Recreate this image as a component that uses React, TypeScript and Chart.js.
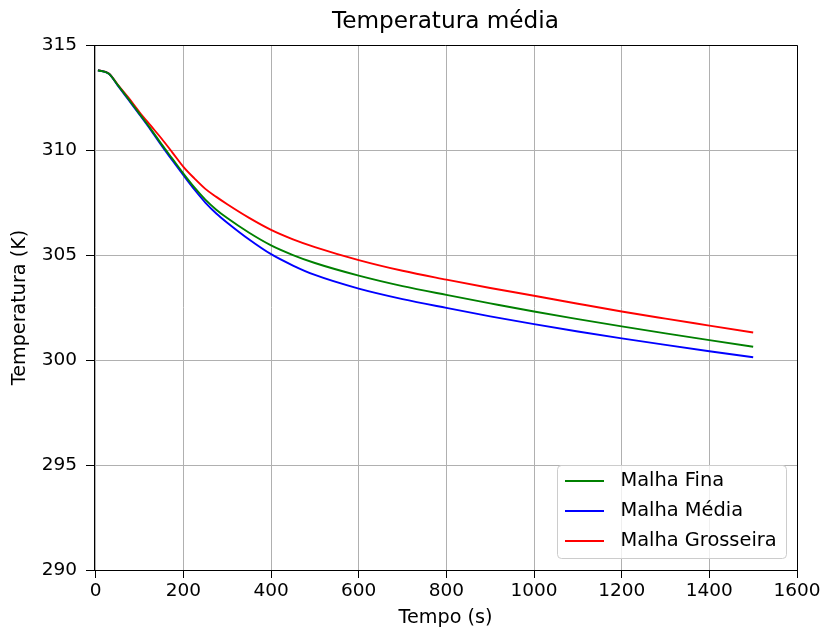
import React, { useEffect, useRef } from "react";
import { Chart, registerables } from "chart.js";

Chart.register(...registerables);

const times = [5, 30, 50, 75, 100, 125, 150, 175, 200, 225, 250, 275, 300, 350, 400, 450, 500, 600, 700, 800, 900, 1000, 1100, 1200, 1300, 1400, 1500];

const malhaFina = [313.8, 313.63, 313.1, 312.42, 311.72, 311.02, 310.28, 309.58, 308.88, 308.22, 307.64, 307.16, 306.76, 306.06, 305.46, 305.0, 304.62, 304.02, 303.52, 303.1, 302.7, 302.31, 301.95, 301.6, 301.27, 300.95, 300.63];

const malhaMedia = [313.8, 313.63, 313.08, 312.38, 311.68, 310.97, 310.22, 309.5, 308.8, 308.12, 307.5, 306.98, 306.54, 305.74, 305.04, 304.5, 304.05, 303.4, 302.9, 302.48, 302.08, 301.71, 301.36, 301.03, 300.72, 300.42, 300.13];

const malhaGrosseira = [313.8, 313.65, 313.12, 312.48, 311.8, 311.17, 310.55, 309.88, 309.2, 308.65, 308.15, 307.77, 307.42, 306.77, 306.2, 305.75, 305.38, 304.76, 304.25, 303.83, 303.43, 303.06, 302.68, 302.31, 301.97, 301.64, 301.31];

const seriesLabels = ["Malha Fina", "Malha Média", "Malha Grosseira"];
const seriesColors = ["#008000", "#0000ff", "#ff0000"];

const xTicks = [0, 200, 400, 600, 800, 1000, 1200, 1400, 1600];
const yTicks = [290, 295, 300, 305, 310, 315];

const FONT = "DejaVu Sans";

const framePlugin = {
  id: "frame",
  afterDatasetsDraw(chart: any) {
    const { ctx, chartArea } = chart;
    const { left, right, top, bottom } = chartArea;
    ctx.save();
    ctx.strokeStyle = "#000";
    ctx.lineWidth = 1;
    ctx.beginPath();
    ctx.moveTo(Math.round(left) - 0.5, Math.round(top) + 0.5);
    ctx.lineTo(Math.round(right) + 0.5, Math.round(top) + 0.5);
    ctx.lineTo(Math.round(right) + 0.5, Math.round(bottom) + 0.5);
    ctx.stroke();
    ctx.restore();
  },
};

const legendPlugin = {
  id: "innerLegend",
  afterDraw(chart: any) {
    const { ctx } = chart;
    const x0 = 557.5, y0 = 465.5, w = 229, h = 93, r = 4;
    ctx.save();
    ctx.beginPath();
    ctx.moveTo(x0 + r, y0);
    ctx.lineTo(x0 + w - r, y0);
    ctx.quadraticCurveTo(x0 + w, y0, x0 + w, y0 + r);
    ctx.lineTo(x0 + w, y0 + h - r);
    ctx.quadraticCurveTo(x0 + w, y0 + h, x0 + w - r, y0 + h);
    ctx.lineTo(x0 + r, y0 + h);
    ctx.quadraticCurveTo(x0, y0 + h, x0, y0 + h - r);
    ctx.lineTo(x0, y0 + r);
    ctx.quadraticCurveTo(x0, y0, x0 + r, y0);
    ctx.closePath();
    ctx.fillStyle = "rgba(255,255,255,0.8)";
    ctx.fill();
    ctx.strokeStyle = "#cccccc";
    ctx.lineWidth = 1;
    ctx.stroke();
    const rows = [481, 511, 541];
    chart.data.datasets.forEach((ds: any, i: number) => {
      const y = rows[i];
      ctx.strokeStyle = ds.borderColor;
      ctx.lineWidth = 2;
      ctx.beginPath();
      ctx.moveTo(565, y);
      ctx.lineTo(604, y);
      ctx.stroke();
      ctx.fillStyle = "#000";
      ctx.font = `19.4px "${FONT}"`;
      ctx.textBaseline = "middle";
      ctx.textAlign = "left";
      ctx.fillText(ds.label, 620.5, y);
    });
    ctx.restore();
  },
};

export default function App() {
  const ref = useRef<HTMLCanvasElement | null>(null);

  useEffect(() => {
    if (!ref.current) return;
    const seriesValues = [malhaFina, malhaMedia, malhaGrosseira];
    const tickFont = { family: FONT, size: 18.5, weight: "normal" as const };
    const labelFont = { family: FONT, size: 19.2, weight: "normal" as const };
    const chart = new Chart(ref.current, {
      type: "line",
      data: {
        datasets: seriesValues.map((vals, i) => ({
          label: seriesLabels[i],
          data: times.map((t, j) => ({ x: t, y: vals[j] })),
          borderColor: seriesColors[i],
          backgroundColor: seriesColors[i],
          borderWidth: 1.9,
          pointRadius: 0,
          fill: false,
          cubicInterpolationMode: "monotone" as const,
        })),
      },
      options: {
        animation: false,
        responsive: false,
        maintainAspectRatio: false,
        layout: { padding: { left: 0, right: 27, top: 0, bottom: 0 } },
        plugins: {
          legend: { display: false },
          tooltip: { enabled: false },
          title: {
            display: true,
            text: "Temperatura média",
            fullSize: false,
            color: "#000",
            font: { family: FONT, size: 23.2, weight: "normal" },
            padding: { top: 8.5, bottom: 8.7 },
          },
        },
        scales: {
          x: {
            type: "linear",
            min: -4,
            max: 1600,
            afterBuildTicks: (s: any) => {
              s.ticks = xTicks.map((v) => ({ value: v }));
            },
            afterFit: (s: any) => {
              s.height = 65;
            },
            grid: { color: "#b0b0b0", lineWidth: 1, tickColor: "#000", tickLength: 8 },
            border: { color: "#000", width: 1 },
            ticks: {
              color: "#000",
              font: tickFont,
              padding: 2,
              maxRotation: 0,
              autoSkip: false,
              callback: (v: any) => String(v),
            },
            title: { display: true, text: "Tempo (s)", color: "#000", font: labelFont, padding: { top: 0, bottom: 5.5 } },
          },
          y: {
            type: "linear",
            min: 290,
            max: 315,
            afterBuildTicks: (s: any) => {
              s.ticks = yTicks.map((v) => ({ value: v }));
            },
            afterFit: (s: any) => {
              s.width = 94;
            },
            grid: { color: "#b0b0b0", lineWidth: 1, tickColor: "#000", tickLength: 8 },
            border: { color: "#000", width: 1 },
            ticks: { color: "#000", font: tickFont, padding: 9, autoSkip: false, callback: (v: any) => String(v) },
            title: { display: true, text: "Temperatura (K)", color: "#000", font: labelFont, padding: { top: 8.5, bottom: 0 } },
          },
        },
      },
      plugins: [framePlugin, legendPlugin],
    });
    return () => chart.destroy();
  }, []);

  return (
    <div style={{ position: "fixed", left: 0, top: 0, width: 824, height: 635, background: "#fff" }}>
      <canvas ref={ref} width={824} height={635} />
    </div>
  );
}
